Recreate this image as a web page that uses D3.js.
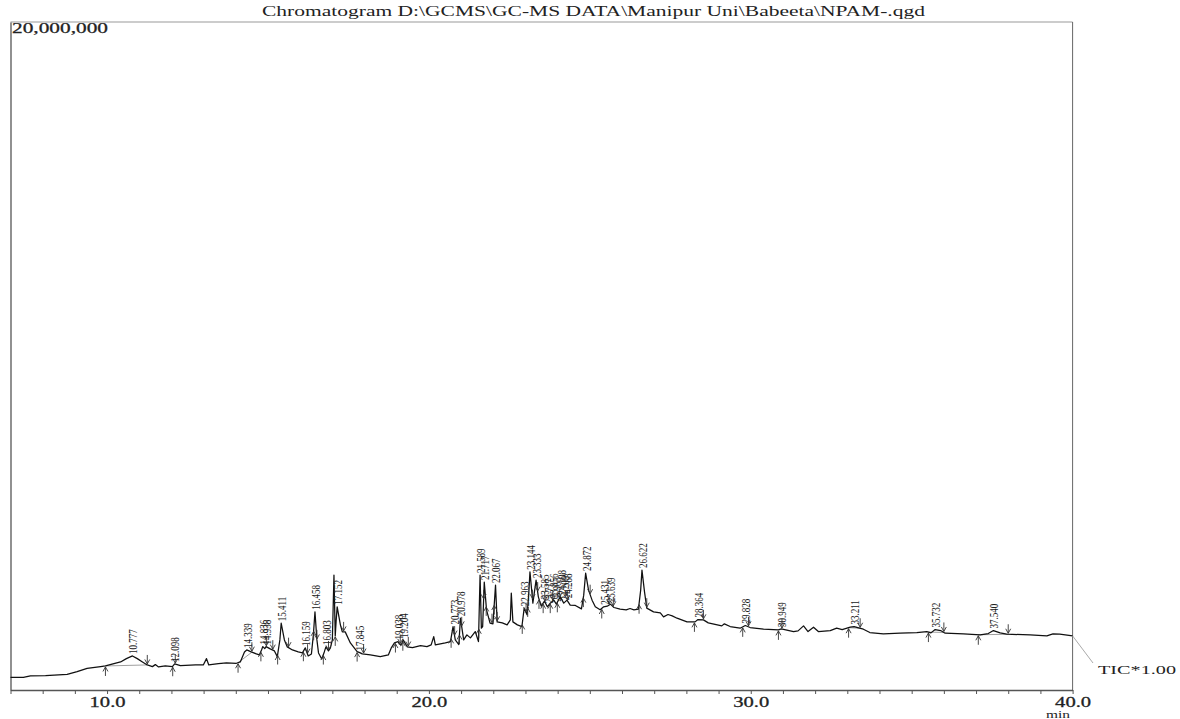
<!DOCTYPE html>
<html><head><meta charset="utf-8">
<script src="https://cdn.jsdelivr.net/npm/d3@7"></script>
<style>
html,body{margin:0;padding:0;background:#fff;}
svg{display:block;}
</style></head>
<body>
<svg id="chart" width="1180" height="719"></svg>
<script>
// ---------------- data ----------------
const titleText = "Chromatogram D:\\GCMS\\GC-MS DATA\\Manipur Uni\\Babeeta\\NPAM-.qgd";
const yMaxLabel = "20,000,000";
const yMaxValue = 20; // millions of counts
const xTickValues = [10, 20, 30, 40];
const xTickLabels = ["10.0", "20.0", "30.0", "40.0"];
const xMinorTicks = [7,8,9,10,11,12,13,14,15,16,17,18,19,20,21,22,23,24,25,26,27,28,29,30,31,32,33,34,35,36,37,38,39,40];

// retention time (min)
const traceTime = [7.00,7.40,7.62,8.09,8.76,9.07,9.38,9.80,9.95,10.42,10.60,10.79,10.94,11.10,11.25,11.41,11.50,11.60,11.81,12.03,
12.10,12.28,12.75,12.99,13.09,13.16,13.46,13.71,14.02,14.14,14.27,14.34,14.48,14.64,14.73,14.80,14.84,14.90,14.94,15.07,
15.20,15.29,15.37,15.41,15.51,15.60,15.76,15.94,16.07,16.16,16.25,16.35,16.41,16.46,16.52,16.57,16.67,16.75,16.80,16.88,
16.94,17.00,17.05,17.09,17.12,17.15,17.25,17.31,17.40,17.56,17.77,17.85,17.93,18.18,18.49,18.74,18.83,18.93,19.04,19.08,
19.14,19.20,19.33,19.49,19.74,19.94,20.07,20.15,20.20,20.51,20.67,20.75,20.82,20.93,20.98,21.08,21.18,21.29,21.44,21.54,
21.59,21.63,21.67,21.72,21.79,21.90,21.99,22.07,22.12,22.28,22.43,22.53,22.56,22.61,22.75,22.89,22.96,23.05,23.10,23.14,
23.23,23.33,23.40,23.49,23.59,23.68,23.77,23.88,23.96,24.08,24.19,24.29,24.39,24.55,24.74,24.81,24.87,24.96,25.07,25.17,
25.32,25.43,25.54,25.64,25.75,25.94,26.13,26.25,26.37,26.51,26.58,26.62,26.70,26.77,26.98,27.19,27.29,27.43,27.56,27.71,
28.02,28.27,28.36,28.53,28.68,29.10,29.18,29.36,29.67,29.83,29.98,30.40,30.86,30.95,31.33,31.47,31.64,31.78,31.95,32.10,
32.47,32.67,32.84,33.09,33.21,33.50,33.70,34.12,34.64,35.16,35.47,35.60,35.73,35.90,36.04,36.61,37.13,37.38,37.54,37.75,
37.95,38.68,39.20,39.39,39.60,40.00];
// TIC intensity (millions of counts)
const traceSignal = [0.38,0.38,0.42,0.43,0.47,0.55,0.65,0.70,0.72,0.84,0.94,1.02,0.94,0.84,0.75,0.70,0.76,0.69,0.72,0.70,
0.78,0.73,0.75,0.75,0.94,0.75,0.79,0.81,0.80,0.84,1.14,1.20,1.14,1.08,1.05,1.20,1.30,1.24,1.30,1.23,
1.17,1.00,1.50,2.00,1.50,1.29,1.20,1.14,1.11,1.26,1.02,1.08,1.65,2.34,1.50,1.11,0.93,1.14,1.29,1.17,
1.26,1.50,3.44,1.62,2.10,2.49,1.95,1.74,1.74,1.41,1.15,1.12,1.08,1.05,1.00,1.05,1.26,1.41,1.45,1.38,
1.35,1.50,1.29,1.27,1.33,1.30,1.35,1.60,1.35,1.41,1.45,1.90,1.50,1.36,2.15,1.50,1.65,1.56,1.75,1.45,
3.44,1.85,1.90,3.23,2.40,2.00,1.98,3.14,2.04,2.01,1.95,2.10,2.90,2.04,1.95,1.90,2.45,2.25,2.84,3.54,
2.60,3.29,2.79,2.51,2.66,2.49,2.60,2.69,2.57,2.79,2.60,2.69,2.54,2.53,2.43,2.84,3.50,2.99,2.69,2.49,
2.40,2.49,2.51,2.57,2.47,2.42,2.40,2.44,2.40,2.42,2.99,3.59,2.93,2.45,2.34,2.31,2.19,2.26,2.22,2.15,
2.04,2.04,2.11,2.10,2.01,1.92,1.98,1.90,1.85,1.93,1.87,1.82,1.80,1.83,1.75,1.77,1.92,1.75,1.88,1.75,
1.78,1.85,1.81,1.88,1.90,1.82,1.72,1.68,1.70,1.72,1.75,1.71,1.81,1.78,1.70,1.68,1.65,1.69,1.78,1.71,
1.67,1.65,1.62,1.68,1.67,1.62];

const peakLabelTimes = [10.777,12.098,14.339,14.836,14.938,15.411,16.159,16.458,16.803,17.152,17.845,19.038,19.204,20.773,20.978,
21.589,21.717,22.067,22.963,23.144,23.333,23.585,23.717,23.856,23.965,24.108,24.209,24.288,24.872,25.431,25.639,26.622,
28.364,29.828,30.949,33.211,35.732,37.540];
const peakLabels = ["10.777","12.098","14.339","14.836","14.938","15.411","16.159","16.458","16.803","17.152","17.845","19.038","19.204","20.773","20.978",
"21.589","21.717","22.067","22.963","23.144","23.333","23.585","23.717","23.856","23.965","24.108","24.209","24.288","24.872","25.431","25.639","26.622",
"28.364","29.828","30.949","33.211","35.732","37.540"];

const peakStartTimes = [9.95,12.04,14.07,14.78,15.30,16.10,16.42,16.72,17.09,17.77,18.96,19.19,20.69,20.95,21.55,21.78,22.03,22.90,23.07,23.42,23.55,23.77,23.99,24.80,25.37,26.53,28.25,29.75,30.86,33.04,35.52,37.07];
const peakEndTimes = [11.25,12.12,14.50,14.95,15.15,15.64,16.23,16.52,16.88,17.35,17.97,19.11,19.36,20.80,21.02,21.70,21.96,22.12,23.02,23.22,23.38,23.60,23.85,24.05,24.30,25.01,25.60,25.73,26.77,28.53,29.93,30.97,33.40,36.00,38.00];
const baselineStarts = [9.95, 14.07, 33.04, 35.52, 37.07];
const baselineEnds = [11.25, 14.50, 33.40, 36.00, 38.00];

// ---------------- drawing ----------------
const svg = d3.select("#chart");
const x = d3.scaleLinear().domain([7, 40]).range([10.5, 1072.6]);
const y = d3.scaleLinear().domain([0, yMaxValue]).range([690, 22]);
const serif = "'Liberation Serif','Times New Roman',serif";

const pts = traceTime.map((t, i) => [t, traceSignal[i]]);
const bis = d3.bisector(d => d[0]).left;
function valAt(t) {
  let i = bis(pts, t);
  if (i <= 0) return pts[0][1];
  if (i >= pts.length) return pts[pts.length - 1][1];
  const a = pts[i - 1], b = pts[i];
  return a[1] + (b[1] - a[1]) * (t - a[0]) / (b[0] - a[0]);
}
function maxNear(t, w) {
  let m = valAt(t);
  pts.forEach(p => { if (Math.abs(p[0] - t) <= w && p[1] > m) m = p[1]; });
  return m;
}

// title
svg.append("text")
  .attr("x", 262).attr("y", 16)
  .attr("font-family", serif).attr("font-size", 14)
  .attr("textLength", 663).attr("lengthAdjust", "spacingAndGlyphs")
  .attr("fill", "#222")
  .text(titleText);

// top frame line and right line
svg.append("line").attr("x1", x(7)).attr("x2", x(40)).attr("y1", y(yMaxValue)).attr("y2", y(yMaxValue))
  .attr("stroke", "#999").attr("stroke-width", 1.2);
svg.append("line").attr("x1", x(40)).attr("x2", x(40)).attr("y1", y(yMaxValue)).attr("y2", y(0))
  .attr("stroke", "#666").attr("stroke-width", 1);

// left axis
const yAxis = d3.axisLeft(y).tickValues([]).tickSizeOuter(0);
svg.append("g").attr("transform", `translate(${x(7)},0)`).call(yAxis)
  .call(g => g.select(".domain").attr("stroke", "#555").attr("stroke-width", 1.3));

svg.append("text")
  .attr("x", 12).attr("y", 33)
  .attr("font-family", serif).attr("font-size", 14)
  .attr("textLength", 96).attr("lengthAdjust", "spacingAndGlyphs")
  .attr("fill", "#222").attr("stroke", "#222").attr("stroke-width", 0.25)
  .text(yMaxLabel);

// bottom axis
const xAxis = d3.axisBottom(x).tickValues(xMinorTicks).tickSize(4).tickSizeOuter(0)
  .tickFormat(d => { const k = xTickValues.indexOf(d); return k >= 0 ? xTickLabels[k] : ""; });
svg.append("g").attr("transform", `translate(0,${y(0)})`).call(xAxis)
  .call(g => g.select(".domain").attr("stroke", "#555").attr("stroke-width", 1.3))
  .call(g => g.selectAll(".tick line").attr("stroke", "#555"))
  .call(g => g.selectAll(".tick text")
    .attr("font-family", serif).attr("font-size", 15).attr("fill", "#222")
    .attr("stroke", "#222").attr("stroke-width", 0.3)
    .attr("y", 6)
    .attr("textLength", function () { return this.textContent ? 36 : null; })
    .attr("lengthAdjust", "spacingAndGlyphs"));

svg.append("text")
  .attr("x", 1058).attr("y", 718).attr("text-anchor", "middle")
  .attr("font-family", serif).attr("font-size", 11)
  .attr("textLength", 24).attr("lengthAdjust", "spacingAndGlyphs")
  .attr("fill", "#222").text("min");

// baselines
svg.append("g").selectAll("line").data(baselineStarts).join("line")
  .attr("x1", d => x(d)).attr("y1", d => y(valAt(d)))
  .attr("x2", (d, i) => x(baselineEnds[i])).attr("y2", (d, i) => y(valAt(baselineEnds[i])))
  .attr("stroke", "#888").attr("stroke-width", 0.8);

// trace
const line = d3.line().x(d => x(d[0])).y(d => y(d[1]));
svg.append("path").datum(pts).attr("d", line)
  .attr("fill", "none").attr("stroke", "#111").attr("stroke-width", 1.25).attr("stroke-linejoin", "round");

// start markers (up arrows below trace)
svg.append("g").selectAll("path").data(peakStartTimes).join("path")
  .attr("d", d => {
    const px = x(d), py = y(valAt(d)) + 1;
    return `M${px},${py + 9}L${px},${py}M${px - 2.5},${py + 4.5}L${px},${py}L${px + 2.5},${py + 4.5}`;
  })
  .attr("fill", "none").attr("stroke", "#333").attr("stroke-width", 0.9);

// end markers (down arrows above trace)
svg.append("g").selectAll("path").data(peakEndTimes).join("path")
  .attr("d", d => {
    const px = x(d), py = y(valAt(d)) - 1;
    return `M${px},${py - 9}L${px},${py}M${px - 2.5},${py - 4.5}L${px},${py}L${px + 2.5},${py - 4.5}`;
  })
  .attr("fill", "none").attr("stroke", "#333").attr("stroke-width", 0.9);

// peak labels (vertical)
svg.append("g").selectAll("text").data(peakLabelTimes).join("text")
  .attr("transform", d => `translate(${x(d) + 1},${y(maxNear(d, 0.05)) - 2}) scale(1.3,1) rotate(-90)`)
  .attr("dy", "0.33em")
  .attr("font-family", serif).attr("font-size", 9).attr("fill", "#222")
  .text((d, i) => peakLabels[i]);

// TIC leader
svg.append("line")
  .attr("x1", x(40)).attr("y1", y(traceSignal[traceSignal.length - 1]))
  .attr("x2", 1093).attr("y2", 663)
  .attr("stroke", "#aaa").attr("stroke-width", 1);
svg.append("text")
  .attr("x", 1098).attr("y", 674)
  .attr("font-family", serif).attr("font-size", 13)
  .attr("textLength", 78).attr("lengthAdjust", "spacingAndGlyphs")
  .attr("fill", "#222").text("TIC*1.00");
</script>
</body></html>
